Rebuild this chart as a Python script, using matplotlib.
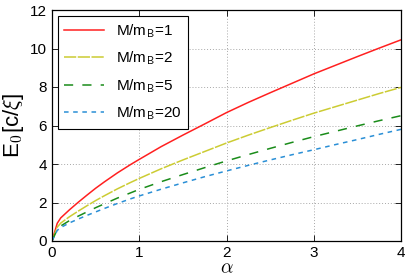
import matplotlib
matplotlib.use("Agg")
import matplotlib.pyplot as plt

plt.rcParams["font.family"] = ["Liberation Sans", "DejaVu Sans"]
plt.rcParams["mathtext.fontset"] = "cm"

# values
alpha = [0, 0.06, 0.1, 0.2, 0.3, 0.4, 0.5, 0.6, 0.75, 0.9, 1,
         1.25, 1.5, 1.75, 2, 2.25, 2.5, 2.75, 3, 3.25, 3.5, 3.75, 4]
e_m1 = [0, 0.92, 1.2, 1.62, 2.01, 2.38, 2.74, 3.07, 3.54, 3.97, 4.24,
        4.9, 5.5, 6.08, 6.67, 7.2, 7.7, 8.19, 8.68, 9.13, 9.58, 10.02, 10.45]
e_m2 = [0, 0.72, 0.93, 1.26, 1.55, 1.83, 2.1, 2.35, 2.71, 3.04, 3.25,
        3.75, 4.21, 4.65, 5.09, 5.5, 5.89, 6.27, 6.64, 6.98, 7.32, 7.66, 7.98]
e_m5 = [0, 0.6, 0.78, 1.06, 1.29, 1.51, 1.73, 1.93, 2.23, 2.5, 2.68,
        3.08, 3.45, 3.81, 4.16, 4.49, 4.81, 5.12, 5.42, 5.7, 5.98, 6.25, 6.51]
e_m20 = [0, 0.55, 0.7, 0.94, 1.14, 1.33, 1.51, 1.69, 1.95, 2.19, 2.34,
         2.69, 3.02, 3.34, 3.64, 3.93, 4.21, 4.48, 4.74, 5.01, 5.27, 5.54, 5.80]
labels = ["M/m$_\\mathsf{B}$=1", "M/m$_\\mathsf{B}$=2", "M/m$_\\mathsf{B}$=5", "M/m$_\\mathsf{B}$=20"]

fig = plt.figure(figsize=(4.15, 2.8), dpi=100)
ax = fig.add_axes([52 / 415, 39 / 280, 349 / 415, 231 / 280])

ax.plot(alpha, e_m1, color="#ff2020", lw=1.1, label=labels[0])
ax.plot(alpha, e_m2, color="#cccc33", lw=1.1, dashes=(8, 1), label=labels[1])
ax.plot(alpha, e_m5, color="#1a8c1a", lw=1.1, dashes=(6, 6), label=labels[2])
ax.plot(alpha, e_m20, color="#2a8fd6", lw=1.1, dashes=(3, 3), label=labels[3])

ax.set_xlim(0, 4)
ax.set_ylim(0, 12)
ax.set_xticks([0, 1, 2, 3, 4])
ax.set_yticks([0, 2, 4, 6, 8, 10, 12])
ax.tick_params(direction="in", top=True, right=True, length=4, labelsize=11, width=0.6)
ax.grid(True, linestyle=(0, (1, 2)), color="#a8a8a8", lw=0.7)
for s in ax.spines.values():
    s.set_linewidth(0.9)

ax.set_xlabel(r"$\alpha$", fontsize=14, labelpad=0)
ax.set_ylabel(r"E$_\mathsf{0}$[c/$\xi$]", fontsize=16, labelpad=3)

leg = ax.legend(loc="upper left", fontsize=11, fancybox=False, framealpha=1,
                edgecolor="black", handlelength=2.6, borderaxespad=0.4,
                labelspacing=0.65)
leg.get_frame().set_linewidth(0.8)

fig.savefig("out.png", dpi=100)
